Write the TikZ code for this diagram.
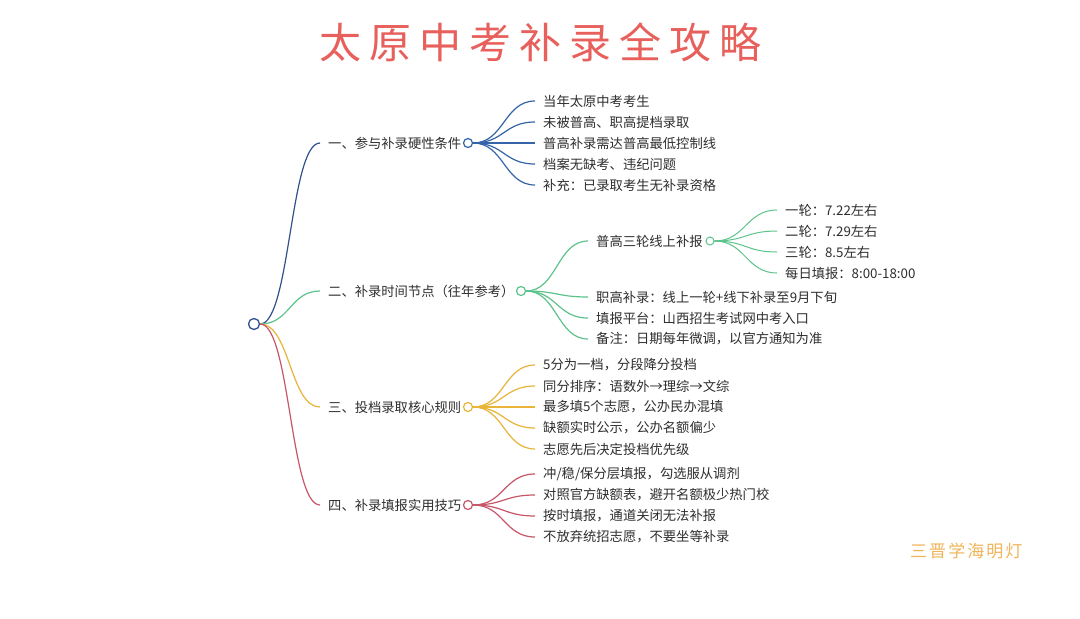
\documentclass[tikz,border=0pt]{standalone}
\usepackage{fontspec}
\setmainfont{Noto Sans CJK SC}
\newfontfamily\titlefont[LetterSpace=19]{Noto Sans CJK SC}
\newfontfamily\markfont[LetterSpace=12]{Noto Sans CJK SC}
\definecolor{cblue}{HTML}{3565A8}
\definecolor{cnavy}{HTML}{33508A}
\definecolor{cgreen}{HTML}{5CC38C}
\definecolor{cyellow}{HTML}{E8B43A}
\definecolor{cred}{HTML}{C8566A}
\definecolor{ctext}{HTML}{2E2E2E}
\definecolor{ctitle}{HTML}{E8605C}
\definecolor{cmark}{HTML}{F0B55A}
\begin{document}
\begin{tikzpicture}[x=1pt,y=-1pt,
  lbl/.style={anchor=west,inner xsep=8pt,inner ysep=0pt,text=ctext,font=\fontsize{13.3}{14}\selectfont},
  dot/.style={circle,draw,fill=white,line width=1.2pt,minimum size=9pt,inner sep=0pt},
  edge/.style={line width=1.2pt},
  sedge/.style={line width=1pt}]
\useasboundingbox[fill=white] (0,0) rectangle (1080,619);

% title
\node[anchor=west,inner sep=0pt,text=ctitle,font=\titlefont\fontsize{42}{44}\selectfont] (title) at (319,42) {太原中考补录全攻略};

% root
\node[dot,draw=cnavy,line width=1.3pt,minimum size=11pt] (root) at (254,324) {};

% branch labels
\node[lbl] (b1) at (320,143) {一、参与补录硬性条件};
\node[lbl] (b2) at (320,291) {二、补录时间节点（往年参考）};
\node[lbl] (b3) at (320,407) {三、投档录取核心规则};
\node[lbl] (b4) at (320,505) {四、补录填报实用技巧};

\node[dot,draw=cblue] (c1) at (468,143) {};
\node[dot,draw=cgreen] (c2) at (521,291) {};
\node[dot,draw=cyellow] (c3) at (468,407) {};
\node[dot,draw=cred] (c4) at (468,505) {};

\draw[edge,cnavy] (root.east) .. controls +(30,0) and +(-30,0) .. (b1.west);
\draw[edge,cgreen] (root.east) .. controls +(30,0) and +(-30,0) .. (b2.west);
\draw[edge,cyellow] (root.east) .. controls +(30,0) and +(-30,0) .. (b3.west);
\draw[edge,cred] (root.east) .. controls +(30,0) and +(-30,0) .. (b4.west);

% branch 1 children
\node[lbl] (a1) at (535,101) {当年太原中考考生};
\node[lbl] (a2) at (535,122) {未被普高、职高提档录取};
\node[lbl] (a3) at (535,143) {普高补录需达普高最低控制线};
\node[lbl] (a4) at (535,164) {档案无缺考、违纪问题};
\node[lbl] (a5) at (535,185) {补充：已录取考生无补录资格};
\foreach \n in {a1,a2,a3,a4,a5}
  \draw[edge,cblue] (c1.east) .. controls +(31,0) and +(-31,0) .. (\n.west);

% branch 2 children
\node[lbl] (s1) at (588,241) {普高三轮线上补报};
\node[dot,draw=cgreen,minimum size=8pt,line width=1pt] (cs) at (710,241) {};
\node[lbl] (t1) at (777,210) {一轮：7.22左右};
\node[lbl] (t2) at (777,231) {二轮：7.29左右};
\node[lbl] (t3) at (777,252) {三轮：8.5左右};
\node[lbl] (t4) at (777,273) {每日填报：8:00-18:00};
\node[lbl] (s2) at (588,297) {职高补录：线上一轮+线下补录至9月下旬};
\node[lbl] (s3) at (588,318) {填报平台：山西招生考试网中考入口};
\node[lbl] (s4) at (588,339) {备注：日期每年微调，以官方通知为准};
\foreach \n in {s1,s2,s3,s4}
  \draw[edge,cgreen] (c2.east) .. controls +(31,0) and +(-31,0) .. (\n.west);
\foreach \n in {t1,t2,t3,t4}
  \draw[sedge,cgreen] (cs.east) .. controls +(31,0) and +(-31,0) .. (\n.west);

% branch 3 children
\node[lbl] (r1) at (535,365) {5分为一档，分段降分投档};
\node[lbl] (r2) at (535,386) {同分排序：语数外→理综→文综};
\node[lbl] (r3) at (535,407) {最多填5个志愿，公办民办混填};
\node[lbl] (r4) at (535,428) {缺额实时公示，公办名额偏少};
\node[lbl] (r5) at (535,449) {志愿先后决定投档优先级};
\foreach \n in {r1,r2,r3,r4,r5}
  \draw[edge,cyellow] (c3.east) .. controls +(31,0) and +(-31,0) .. (\n.west);

% branch 4 children
\node[lbl] (q1) at (535,474) {冲/稳/保分层填报，勾选服从调剂};
\node[lbl] (q2) at (535,495) {对照官方缺额表，避开名额极少热门校};
\node[lbl] (q3) at (535,516) {按时填报，通道关闭无法补报};
\node[lbl] (q4) at (535,537) {不放弃统招志愿，不要坐等补录};
\foreach \n in {q1,q2,q3,q4}
  \draw[edge,cred] (c4.east) .. controls +(31,0) and +(-31,0) .. (\n.west);

% watermark
\node[anchor=west,inner sep=0pt,text=cmark,font=\markfont\fontsize{17}{18}\selectfont] (mark) at (910,551) {三晋学海明灯};
\end{tikzpicture}
\end{document}
